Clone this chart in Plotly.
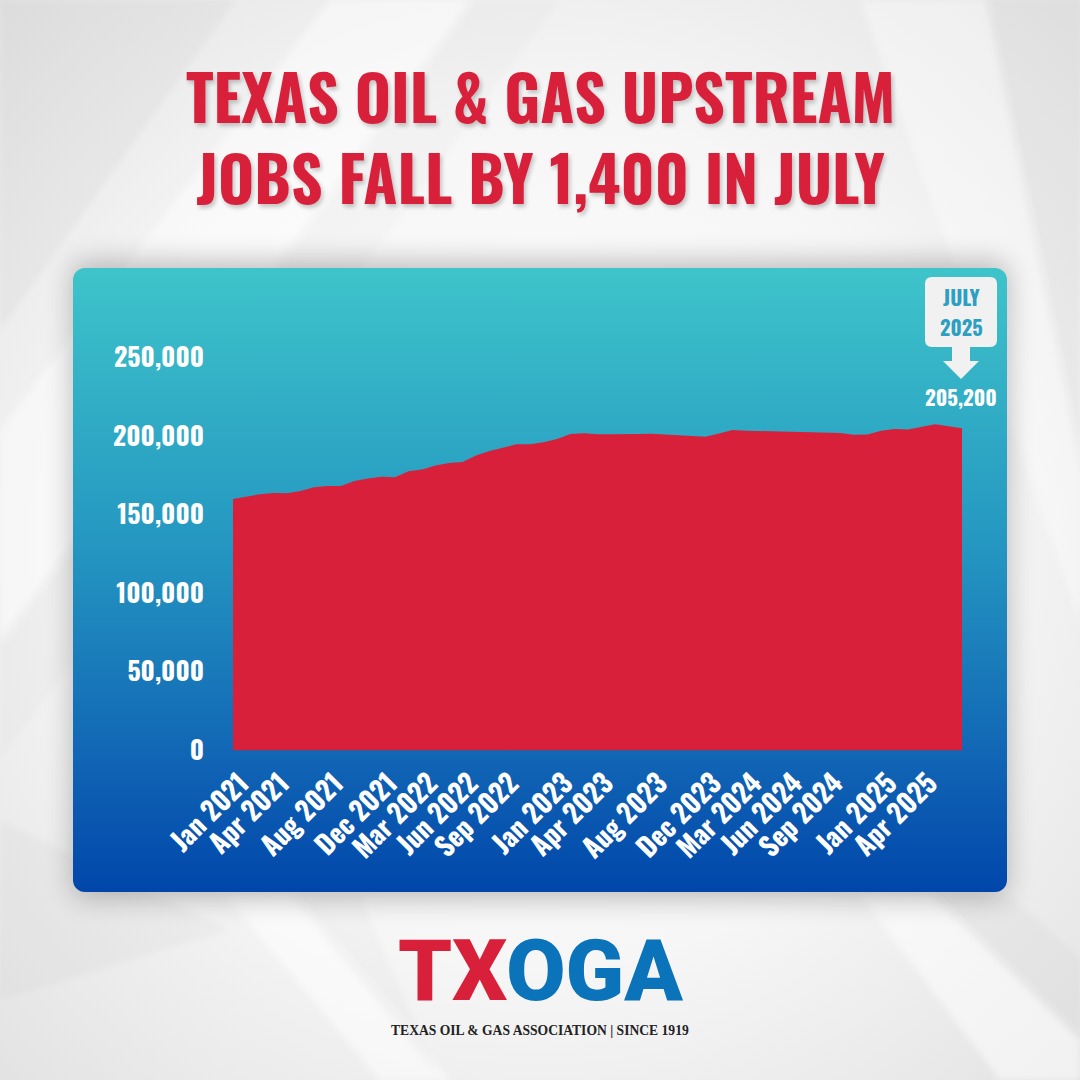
import base64
import plotly.graph_objects as go

# ---------------- data ----------------
month_names = ["Jan", "Feb", "Mar", "Apr", "May", "Jun", "Jul", "Aug", "Sep", "Oct", "Nov", "Dec"]
years = [2021, 2022, 2023, 2024, 2025]
months = [f"{m} {y}" for y in years for m in month_names][:55]  # Jan 2021 .. Jul 2025

jobs = [
    160200, 161700, 163200, 164000, 163800, 165300, 167600, 168500, 168500, 171700,
    173300, 174400, 174000, 177800, 179000, 181500, 183100, 183800, 187900, 190800,
    192900, 195000, 195000, 196300, 198400, 201600, 202000, 201400, 201500, 201400,
    201600, 201800, 201300, 201000, 200200, 199900, 201900, 204100, 203700, 203500,
    203400, 203000, 202700, 202900, 202700, 202200, 201100, 201300, 203600, 204800,
    204500, 206200, 207800, 206600, 205200,
]

x_ticks = ["Jan 2021", "Apr 2021", "Aug 2021", "Dec 2021", "Mar 2022", "Jun 2022",
           "Sep 2022", "Jan 2023", "Apr 2023", "Aug 2023", "Dec 2023", "Mar 2024",
           "Jun 2024", "Sep 2024", "Jan 2025", "Apr 2025"]
y_ticks = [0, 50000, 100000, 150000, 200000, 250000]

title_lines = ["TEXAS OIL & GAS UPSTREAM", "JOBS FALL BY 1,400 IN JULY"]
callout_lines = ["JULY", "2025"]
callout_value = "205,200"
logo_red = "TX"
logo_blue = "OGA"
logo_tagline = "TEXAS OIL & GAS ASSOCIATION | SINCE 1919"

# ---------------- styling helpers ----------------
W = H = 1080
COND = "Oswald"
RED = "#d9203a"
BLUE_LOGO = "#0a73ba"
TEAL_TXT = "#2c9fc2"


def px(x):
    return x / W


def py(y):
    return 1 - y / H


svg = f"""<svg xmlns='http://www.w3.org/2000/svg' width='{W}' height='{H}' viewBox='0 0 {W} {H}' preserveAspectRatio='none'>
<defs>
<radialGradient id='bg' cx='50%' cy='50%' r='72%'>
<stop offset='0' stop-color='#ffffff'/>
<stop offset='0.55' stop-color='#f6f6f6'/>
<stop offset='1' stop-color='#e2e2e2'/>
</radialGradient>
<linearGradient id='panel' x1='0' y1='0' x2='0' y2='1'>
<stop offset='0' stop-color='#3ec4ca'/>
<stop offset='0.45' stop-color='#2496c1'/>
<stop offset='0.8' stop-color='#1063b4'/>
<stop offset='1' stop-color='#0046aa'/>
</linearGradient>
<filter id='sh' x='-20%' y='-20%' width='140%' height='140%'><feGaussianBlur stdDeviation='14'/></filter>
<filter id='soft' x='-20%' y='-20%' width='140%' height='140%'><feGaussianBlur stdDeviation='3'/></filter>
</defs>
<rect width='{W}' height='{H}' fill='url(#bg)'/>
<g filter='url(#soft)'>
<polygon points='0,0 235,0 0,330' fill='#000' opacity='0.03'/>
<polygon points='0,430 330,0 470,0 0,640' fill='#fff' opacity='0.45'/>
<polygon points='0,640 470,0 560,0 0,760' fill='#000' opacity='0.015'/>
<polygon points='1080,0 985,0 1080,470' fill='#000' opacity='0.025'/>
<polygon points='860,0 985,0 1080,470 1080,620' fill='#fff' opacity='0.35'/>
<polygon points='0,820 230,930 0,1000' fill='#000' opacity='0.025'/>
<polygon points='225,895 290,895 450,1080 380,1080' fill='#fff' opacity='0.5'/>
<polygon points='290,895 360,895 440,1080' fill='#000' opacity='0.02'/>
<polygon points='860,895 930,895 1080,1040 1080,1080 1000,1080' fill='#fff' opacity='0.5'/>
<polygon points='930,895 1010,895 1080,960 1080,1040' fill='#000' opacity='0.025'/>
</g>
<rect x='73' y='262' width='934' height='636' rx='14' fill='#000' opacity='0.25' filter='url(#sh)'/>
<rect x='73' y='268' width='934' height='624' rx='12' fill='url(#panel)'/>
</svg>"""
bg_src = "data:image/svg+xml;base64," + base64.b64encode(svg.encode()).decode()

fig = go.Figure()
fig.add_trace(go.Scatter(
    x=months, y=jobs, mode="lines", fill="tozeroy",
    line=dict(width=0, color=RED), fillcolor=RED, hoverinfo="x+y",
))

fig.update_layout(
    width=W, height=H, autosize=False,
    margin=dict(l=0, r=0, t=0, b=0, pad=0, autoexpand=False),
    paper_bgcolor="#f2f2f2", plot_bgcolor="rgba(0,0,0,0)",
    showlegend=False,
    images=[dict(source=bg_src, xref="paper", yref="paper", x=0, y=1, sizex=1, sizey=1,
                 xanchor="left", yanchor="top", sizing="stretch", layer="below")],
    xaxis=dict(
        domain=[px(233), px(962)], range=[0, 54], type="category", automargin=False,
        categoryorder="array", categoryarray=months,
        tickvals=x_ticks, ticktext=x_ticks, tickangle=-45,
        showgrid=False, zeroline=False, showline=False, ticks="",
        tickfont=dict(family=COND, size=27, color="white", weight="bold"),
        ticklabelstandoff=11, ticklabelshift=8, fixedrange=True,
    ),
    yaxis=dict(
        domain=[py(750.5), py(342.3)], range=[0, 260000], automargin=False,
        tickvals=y_ticks, tickformat=",",
        showgrid=False, zeroline=False, showline=False, ticks="",
        tickfont=dict(family=COND, size=26, color="white", weight="bold"),
        ticklabelstandoff=28, fixedrange=True,
    ),
)

shadow = "2px 3px 4px rgba(0,0,0,0.22)"
annotations = [
    dict(text="<br>".join(title_lines), x=0.5, y=py(136),
         font=dict(family=COND, size=62, color=RED, weight="bold", shadow=shadow)),
    dict(text=callout_lines[0], x=px(961), y=py(296.5), font=dict(family=COND, size=20.5, color=TEAL_TXT, weight="bold")),
    dict(text=callout_lines[1], x=px(961), y=py(327.5), font=dict(family=COND, size=20.5, color=TEAL_TXT, weight="bold")),
    dict(text=callout_value, x=px(961), y=py(396), font=dict(family=COND, size=21, color="white", weight="bold")),
    dict(text=f"<span style='color:{RED}'>{logo_red}</span><span style='color:{BLUE_LOGO}'>{logo_blue}</span>",
         x=0.5, y=py(970), font=dict(family="Roboto", size=86, weight=900)),
    dict(text=logo_tagline, x=0.5, y=py(1030), font=dict(family="Liberation Serif", size=13.6, color="#222", weight="bold")),
]
for a in annotations:
    a.update(xref="paper", yref="paper", showarrow=False, xanchor="center", yanchor="middle")
fig.update_layout(annotations=annotations)

box_l, box_r, box_t, box_b, rr = 925, 997, 277, 347, 7
box_path = (f"M {px(box_l + rr)} {py(box_t)} L {px(box_r - rr)} {py(box_t)} "
            f"Q {px(box_r)} {py(box_t)} {px(box_r)} {py(box_t + rr)} "
            f"L {px(box_r)} {py(box_b - rr)} Q {px(box_r)} {py(box_b)} {px(box_r - rr)} {py(box_b)} "
            f"L {px(box_l + rr)} {py(box_b)} Q {px(box_l)} {py(box_b)} {px(box_l)} {py(box_b - rr)} "
            f"L {px(box_l)} {py(box_t + rr)} Q {px(box_l)} {py(box_t)} {px(box_l + rr)} {py(box_t)} Z")
arrow_path = (f"M {px(952)} {py(346)} L {px(970)} {py(346)} L {px(970)} {py(361)} L {px(979)} {py(361)} "
              f"L {px(961)} {py(379)} L {px(943)} {py(361)} L {px(952)} {py(361)} Z")
fig.update_layout(shapes=[
    dict(type="path", path=box_path, xref="paper", yref="paper", fillcolor="#f1f1f1", line=dict(width=0), layer="above"),
    dict(type="path", path=arrow_path, xref="paper", yref="paper", fillcolor="#f1f1f1", line=dict(width=0), layer="above"),
])

fig.write_html("out.html", config={"displayModeBar": False},
               post_script="document.body.style.margin='0';document.body.style.overflow='hidden';")
